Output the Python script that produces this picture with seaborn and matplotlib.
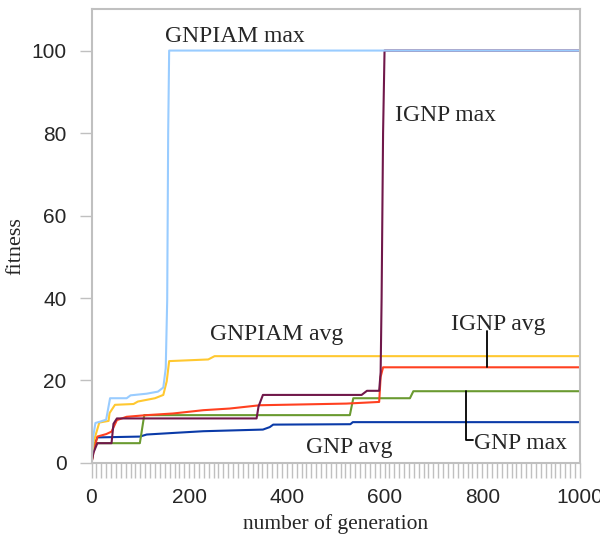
import pandas as pd
import matplotlib.pyplot as plt
import seaborn as sns
from matplotlib.ticker import MultipleLocator

# Data (generation, fitness breakpoints)
gen_gnpiam_max = [0, 3, 8, 17, 30, 38, 72, 80, 113, 136, 147, 152, 155, 157, 159, 1000]
fit_gnpiam_max = [0, 6, 9.7, 10, 10.5, 15.7, 15.7, 16.4, 16.8, 17.3, 18.3, 23, 39.5, 80, 100, 100]

gen_gnpiam_avg = [0, 4, 16, 35, 37, 48, 86, 95, 130, 147, 154, 159, 239, 252, 1000]
fit_gnpiam_avg = [0, 5, 9.8, 10.2, 12.1, 14.1, 14.3, 14.9, 15.7, 16.5, 19.8, 24.7, 25.1, 25.9, 25.9]

gen_ignp_max = [0, 4, 12, 41, 45, 52, 338, 342, 351, 553, 564, 589, 592, 594, 597, 600, 1000]
fit_ignp_max = [0, 2.5, 4.8, 4.8, 9.5, 10.8, 10.8, 13.7, 16.5, 16.5, 17.5, 17.5, 22, 40, 80, 100, 100]

gen_ignp_avg = [0, 4, 12, 30, 41, 52, 72, 113, 167, 229, 283, 345, 522, 589, 592, 597, 1000]
fit_ignp_avg = [0, 2.6, 6.4, 7.0, 7.6, 10.4, 11.2, 11.6, 12.0, 12.8, 13.2, 14.0, 14.4, 14.8, 20.9, 23.2, 23.2]

gen_gnp_max = [0, 5, 99, 108, 529, 536, 652, 659, 1000]
fit_gnp_max = [0, 4.8, 4.8, 11.6, 11.6, 15.7, 15.7, 17.4, 17.4]

gen_gnp_avg = [0, 4, 12, 99, 113, 170, 229, 351, 365, 372, 530, 535, 1000]
fit_gnp_avg = [0, 4, 6.2, 6.4, 6.9, 7.3, 7.7, 8.1, 8.7, 9.3, 9.4, 9.9, 9.9]

series = [
    (gen_gnp_avg, fit_gnp_avg, "#0a3aa8"),
    (gen_gnp_max, fit_gnp_max, "#6a9a30"),
    (gen_ignp_avg, fit_ignp_avg, "#ff4020"),
    (gen_gnpiam_avg, fit_gnpiam_avg, "#ffc830"),
    (gen_ignp_max, fit_ignp_max, "#70184a"),
    (gen_gnpiam_max, fit_gnpiam_max, "#99ccff"),
]

sns.set_style("white")
plt.rcParams["font.family"] = ["Liberation Serif", "DejaVu Serif"]

fig = plt.figure(figsize=(6, 5.42), dpi=100)
ax = fig.add_axes([0.1525, 0.1458, 0.814, 0.837])

for gen, fit, color in series:
    df = pd.DataFrame({"gen": gen, "fitness": fit})
    sns.lineplot(data=df, x="gen", y="fitness", color=color, linewidth=1.5,
                 sort=False, ax=ax)

ax.set_xlim(0, 1000)
ax.set_ylim(0, 110)
ax.xaxis.set_major_locator(MultipleLocator(200))
ax.xaxis.set_minor_locator(MultipleLocator(10))
ax.yaxis.set_major_locator(MultipleLocator(20))

grey = "#c0c0c0"
for sp in ax.spines.values():
    sp.set_color(grey)
    sp.set_linewidth(1.5)
ax.tick_params(axis="x", which="both", direction="out", length=11, width=1,
               color=grey, pad=7, bottom=True)
ax.tick_params(axis="y", which="both", direction="out", length=9, width=1,
               color=grey, pad=9, left=True)
for lab in ax.get_xticklabels() + ax.get_yticklabels():
    lab.set_family("Liberation Sans")
    lab.set_fontsize(15)

ax.set_xlabel("number of generation", fontsize=15.5, labelpad=5)
ax.set_ylabel("fitness", fontsize=16)
ax.yaxis.set_label_coords(-0.136, 0.479)

# Series labels
fs = 17
ax.text(150, 102, "GNPIAM max", fontsize=fs, ha="left", va="baseline")
ax.text(621, 83, "IGNP max", fontsize=fs, ha="left", va="baseline")
ax.text(243, 29.8, "GNPIAM avg", fontsize=fs, ha="left", va="baseline")
ax.text(737, 32.2, "IGNP avg", fontsize=fs, ha="left", va="baseline")
ax.text(440, 2.5, "GNP avg", fontsize=fs, ha="left", va="baseline")
ax.text(784, 3.3, "GNP max", fontsize=fs, ha="left", va="baseline")

# leader lines
ax.plot([810, 810], [32.0, 23.2], color="black", linewidth=1.3)
ax.plot([766, 766, 782], [17.4, 5.6, 5.6], color="black", linewidth=1.3)

fig.savefig("out.png", dpi=100)
